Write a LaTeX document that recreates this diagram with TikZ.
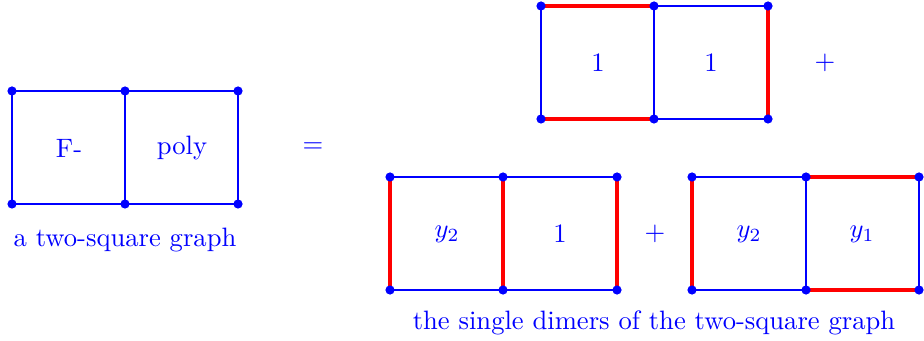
\documentclass[tikz,border=0pt]{standalone}
\begin{document}
\begin{tikzpicture}[x=0.5pt,y=-0.5pt,
  edge/.style={blue,line width=0.6pt},
  dimer/.style={red,line width=2.3pt},
  vdot/.style={circle,fill=blue,inner sep=0pt,minimum size=4.6pt},
  lab/.style={text=blue,font=\normalsize,inner sep=0pt,scale=1.33,transform shape}]
\useasboundingbox (0,0) rectangle (924,341);
% left graph
\coordinate (a1) at (12,91); \coordinate (a2) at (125,91); \coordinate (a3) at (238,91);
\coordinate (a4) at (12,204); \coordinate (a5) at (125,204); \coordinate (a6) at (238,204);
% top right
\coordinate (b1) at (541,6); \coordinate (b2) at (654,6); \coordinate (b3) at (768,6);
\coordinate (b4) at (541,119); \coordinate (b5) at (654,119); \coordinate (b6) at (768,119);
% bottom left
\coordinate (c1) at (390,177); \coordinate (c2) at (503,177); \coordinate (c3) at (617,177);
\coordinate (c4) at (390,290); \coordinate (c5) at (503,290); \coordinate (c6) at (617,290);
% bottom right
\coordinate (d1) at (692,177); \coordinate (d2) at (806,177); \coordinate (d3) at (919,177);
\coordinate (d4) at (692,290); \coordinate (d5) at (806,290); \coordinate (d6) at (919,290);
% edges
\foreach \g in {a,b,c,d}{
  \draw[edge] (\g1) -- (\g2) -- (\g3) -- (\g6) -- (\g5) -- (\g4) -- cycle;
  \draw[edge] (\g2) -- (\g5);
}
% dimers
\draw[dimer] (b1) -- (b2); \draw[dimer] (b4) -- (b5); \draw[dimer] (b3) -- (b6);
\draw[dimer] (c1) -- (c4); \draw[dimer] (c2) -- (c5); \draw[dimer] (c3) -- (c6);
\draw[dimer] (d1) -- (d4); \draw[dimer] (d2) -- (d3); \draw[dimer] (d5) -- (d6);
% dots
\foreach \g in {a,b,c,d}{
  \foreach \i in {1,...,6}{ \node[vdot] at (\g\i) {}; }
}
% labels
\node[lab] (fa) at (69,148) {F-};
\node[lab] (fb) at (182,148) {poly};
\node[lab] (eq) at (313,148) {=};
\node[lab] (t1) at (598,63) {1};
\node[lab] (t2) at (711,63) {1};
\node[lab] (p1) at (825,63) {+};
\node[lab] (l1) at (447,234) {$y_2$};
\node[lab] (l2) at (560,234) {1};
\node[lab] (p2) at (655,234) {+};
\node[lab] (r1) at (749,234) {$y_2$};
\node[lab] (r2) at (862,234) {$y_1$};
\node[lab] (cap1) at (125,240) {a two-square graph};
\node[lab] (cap2) at (654,323) {the single dimers of the two-square graph};
\end{tikzpicture}
\end{document}
